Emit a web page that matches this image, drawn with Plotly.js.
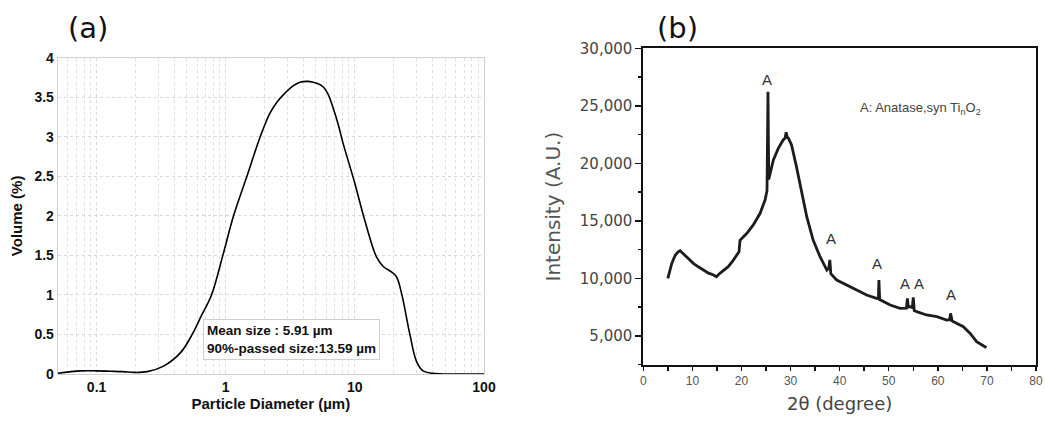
<!DOCTYPE html>
<html>
<head>
<meta charset="utf-8">
<script src="https://cdn.plot.ly/plotly-3.0.1.min.js"></script>
<style>html,body{margin:0;padding:0;background:#fff}#chart{width:1045px;height:426px}</style>
</head>
<body>
<div id="chart"></div>
<script>
// (a) particle size distribution
const psdDiameter = [0.05, 0.075, 0.1, 0.128, 0.16, 0.195, 0.247, 0.33, 0.447, 0.55, 0.64, 0.776, 0.95, 1.15, 1.46, 1.85, 2.2, 2.5, 2.79, 3.3, 3.76, 4.3, 4.76, 5.2, 5.7, 6.2, 6.8, 7.45, 8.1, 10, 11.9, 14.7, 16.6, 19.2, 21, 23, 26.6, 30, 33.7, 40, 60, 100];
const psdVolume   = [0.01, 0.04, 0.04, 0.035, 0.03, 0.02, 0.03, 0.1, 0.27, 0.5, 0.72, 1.0, 1.5, 2.0, 2.5, 3.0, 3.3, 3.44, 3.53, 3.64, 3.69, 3.70, 3.69, 3.67, 3.63, 3.54, 3.36, 3.15, 2.92, 2.41, 1.95, 1.48, 1.36, 1.29, 1.23, 1.02, 0.51, 0.16, 0.04, 0.01, 0.0, 0.0];
const psdTickVals = [0.1, 1, 10, 100];
const psdTickText = ['0.1', '1', '10', '100'];
const psdMinorVals = [0.06, 0.07, 0.08, 0.09, 0.2, 0.3, 0.4, 0.5, 0.6, 0.7, 0.8, 0.9, 2, 3, 4, 5, 6, 7, 8, 9, 20, 30, 40, 50, 60, 70, 80, 90];

// (b) XRD pattern
const xrdAngle = [5.0, 5.4, 5.8, 6.5, 7.1, 7.5, 8.0, 8.5, 9.3, 10.2, 11.2, 12.2, 13.3, 14.3, 14.9, 15.6, 16.5, 17.3, 18.2, 19.0, 19.5, 19.7, 20.4, 21.1, 22.4, 23.8, 24.8, 25.2, 25.4, 25.55, 26.5, 27.5, 28.5, 28.9, 29.1, 29.3, 29.6, 30.2, 31.2, 32.3, 33.3, 34.6, 36.0, 37.4, 37.8, 38.0, 38.2, 39.4, 41.4, 43.5, 45.5, 47.5, 47.9, 48.0, 48.15, 50.3, 52.3, 53.6, 53.8, 54.0, 54.3, 54.8, 55.0, 55.2, 55.7, 57.7, 59.8, 61.8, 62.4, 62.6, 62.9, 63.2, 65.2, 66.6, 67.9, 69.6, 69.9];
const xrdIntensity = [10000, 10700, 11300, 12000, 12300, 12400, 12200, 12000, 11600, 11300, 11000, 10720, 10450, 10290, 10140, 10430, 10700, 11010, 11500, 12030, 12300, 13300, 13600, 13910, 14640, 15650, 16810, 17600, 26230, 18600, 20290, 21300, 22030, 22200, 22700, 22300, 22150, 21600, 19710, 17390, 15360, 13330, 11880, 10720, 10900, 11600, 10400, 9850, 9420, 8980, 8550, 8260, 8250, 9850, 8150, 7680, 7390, 7400, 8260, 7500, 7530, 7450, 8340, 7200, 7100, 6810, 6660, 6370, 6400, 6950, 6300, 6230, 5790, 5210, 4490, 4050, 3970];
const peakAngle = [25.1, 38.2, 47.7, 53.4, 56.2, 62.6];
const peakLabelY = [27250, 13470, 11300, 9560, 9560, 8550];
const peakText = ['A', 'A', 'A', 'A', 'A', 'A'];

const W = 1045, H = 426;
const px = v => v / W, py = v => 1 - v / H;

const traces = [
  {x: psdDiameter, y: psdVolume, xaxis: 'x', yaxis: 'y', type: 'scatter', mode: 'lines',
   line: {color: '#000', width: 1.6, shape: 'spline', smoothing: 1}, hoverinfo: 'skip'},
  {x: xrdAngle, y: xrdIntensity, xaxis: 'x2', yaxis: 'y2', type: 'scatter', mode: 'lines',
   line: {color: '#1c1c1c', width: 2.8}, hoverinfo: 'skip'}
];

const boldFont = {family: 'Liberation Sans, Arial, sans-serif', size: 14, color: '#111', weight: 'bold'};

const annotations = [
  {text: '(a)', xref: 'paper', yref: 'paper', x: px(88), y: py(28), xanchor: 'center', yanchor: 'middle',
   showarrow: false, font: {family: 'DejaVu Sans', size: 29, color: '#111'}},
  {text: '(b)', xref: 'paper', yref: 'paper', x: px(677), y: py(28), xanchor: 'center', yanchor: 'middle',
   showarrow: false, font: {family: 'DejaVu Sans', size: 29, color: '#111'}},
  {text: 'Mean size : 5.91 µm<br>90%-passed size:13.59 µm', xref: 'paper', yref: 'paper',
   x: px(203), y: py(360), xanchor: 'left', yanchor: 'bottom', align: 'left', showarrow: false,
   bordercolor: '#cfcfcf', borderwidth: 1, borderpad: 3, bgcolor: '#fff',
   font: {family: 'Liberation Sans, Arial, sans-serif', size: 13.5, color: '#111', weight: 'bold'}},
  {text: 'A: Anatase,syn Ti<sub>n</sub>O<sub>2</sub>', xref: 'paper', yref: 'paper',
   x: px(858), y: py(108), xanchor: 'left', yanchor: 'middle', showarrow: false,
   font: {family: 'Liberation Sans, Arial, sans-serif', size: 13, color: '#444'}}
];
peakAngle.forEach((a, i) => annotations.push({
  text: peakText[i], xref: 'x2', yref: 'y2', x: a, y: peakLabelY[i], xanchor: 'center', yanchor: 'middle',
  showarrow: false, font: {family: 'Liberation Sans, Arial, sans-serif', size: 15, color: '#333'}
}));

const layout = {
  width: W, height: H, margin: {l: 0, r: 0, t: 0, b: 0}, showlegend: false,
  paper_bgcolor: '#fff', plot_bgcolor: '#fff',
  xaxis: {
    type: 'log', domain: [px(57.7), px(484)], anchor: 'y', range: [Math.log10(0.05), 2],
    tickvals: psdTickVals, ticktext: psdTickText, ticks: '', tickfont: boldFont,
    showgrid: true, gridcolor: '#d9d9d9', griddash: 'dot', gridwidth: 1,
    minor: {tickvals: psdMinorVals, showgrid: true, gridcolor: '#e0e0e0', griddash: 'dot', gridwidth: 1, ticks: ''},
    showline: true, linecolor: '#d0d0d0', linewidth: 1, mirror: true, zeroline: false, automargin: false,
    title: {text: 'Particle Diameter (µm)', font: {family: 'Liberation Sans, Arial, sans-serif', size: 15, color: '#111', weight: 'bold'}, standoff: 4}
  },
  yaxis: {
    domain: [py(374), py(57.7)], anchor: 'x', range: [0, 4], dtick: 0.5, ticks: '', tickfont: boldFont,
    showgrid: true, gridcolor: '#d9d9d9', griddash: 'dot', gridwidth: 1,
    showline: true, linecolor: '#d0d0d0', linewidth: 1, mirror: true, zeroline: false, automargin: false,
    title: {text: 'Volume (%)', font: {family: 'Liberation Sans, Arial, sans-serif', size: 15, color: '#111', weight: 'bold'}, standoff: 8}
  },
  xaxis2: {
    domain: [px(643.3), px(1036)], anchor: 'y2', range: [0, 80], dtick: 10, ticks: 'outside', ticklen: 4,
    tickwidth: 1.5, tickcolor: '#111',
    minor: {dtick: 5, ticks: 'outside', ticklen: 4, tickwidth: 1.5, tickcolor: '#111'},
    tickfont: {family: 'Liberation Sans, Arial, sans-serif', size: 12, color: '#555'},
    showgrid: false, zeroline: false, showline: true, linecolor: '#111', linewidth: 2, mirror: true, automargin: false,
    title: {text: '2θ (degree)', font: {family: 'DejaVu Sans', size: 18, color: '#444'}, standoff: 10}
  },
  yaxis2: {
    domain: [py(365), py(48.3)], anchor: 'x2', range: [2461, 30000], dtick: 5000, tick0: 0, tickformat: ',d',
    ticks: 'outside', ticklen: 6, tickwidth: 1.5, tickcolor: '#111',
    minor: {dtick: 2500, tick0: 0, ticks: 'outside', ticklen: 3, tickwidth: 1.5, tickcolor: '#111'},
    tickfont: {family: 'DejaVu Sans', size: 15, color: '#444'},
    showgrid: false, zeroline: false, showline: true, linecolor: '#111', linewidth: 2, mirror: true, automargin: false,
    title: {text: 'Intensity (A.U.)', font: {family: 'DejaVu Sans', size: 20, color: '#555'}, standoff: 14}
  },
  annotations: annotations
};

Plotly.newPlot('chart', traces, layout, {staticPlot: true, displayModeBar: false});
</script>
</body>
</html>
